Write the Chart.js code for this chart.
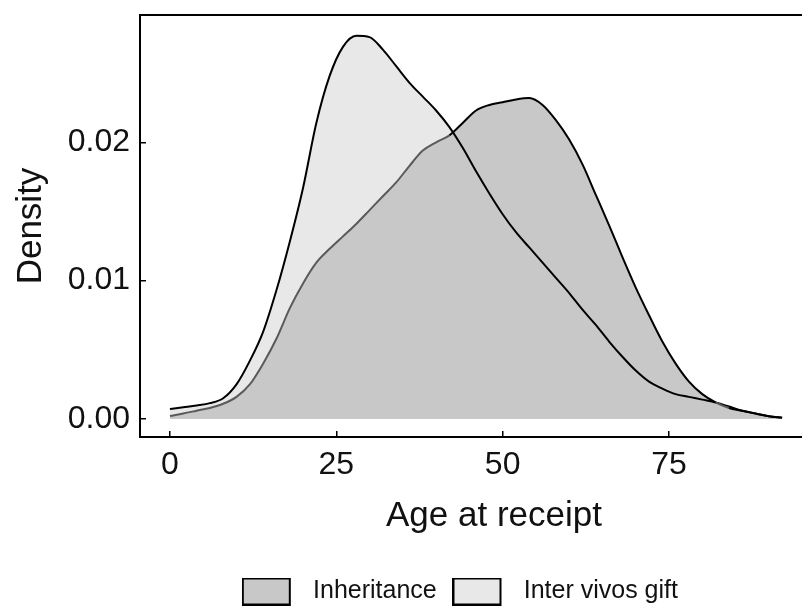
<!DOCTYPE html>
<html>
<head>
<meta charset="utf-8">
<script src="https://cdn.jsdelivr.net/npm/chart.js@4.4.1/dist/chart.umd.min.js"></script>
<style>
  html, body { margin: 0; padding: 0; background: #fff; overflow: hidden; }
  /* the original figure is wider than the window; the right part is cut off */
  #wrap { width: 925px; height: 607px; }
</style>
</head>
<body>
<div id="wrap"><canvas id="densityChart"></canvas></div>
<script>
// age grid (years) and density readings for each group
const ages = [0, 2, 4, 6, 8, 10, 12, 14, 16, 18, 20, 22, 24, 26, 28, 30, 32, 34, 36, 38, 40, 42, 44, 46,
  48, 50, 52, 54, 56, 58, 60, 62, 64, 66, 68, 70, 72, 74, 76, 78, 80, 82, 84, 86, 88, 90, 92];

const inheritance = [0.00022, 0.0004, 0.0006, 0.0008, 0.0011, 0.0016, 0.0025, 0.0040, 0.0058, 0.0080,
  0.0098, 0.0113, 0.0123, 0.0132, 0.0141, 0.0151, 0.0161, 0.0171, 0.0183, 0.0194, 0.0200, 0.0205,
  0.0214, 0.0223, 0.0227, 0.0229, 0.0231, 0.0232, 0.0227, 0.0216, 0.0202, 0.0184, 0.0162, 0.0140,
  0.0117, 0.0095, 0.0075, 0.0056, 0.0040, 0.0027, 0.0018, 0.0012, 0.0008, 0.0006, 0.0004, 0.0002, 0.0001];

const interVivos = [0.00072, 0.00085, 0.00098, 0.00115, 0.0015, 0.0025, 0.0042, 0.0063, 0.0093, 0.0128,
  0.0167, 0.0214, 0.0248, 0.0269, 0.0277, 0.0276, 0.0267, 0.0255, 0.0243, 0.0233, 0.0223, 0.0211,
  0.0196, 0.0179, 0.0163, 0.0148, 0.0135, 0.0124, 0.0113, 0.0102, 0.0091, 0.0079, 0.0068, 0.0056,
  0.0045, 0.0035, 0.0027, 0.0022, 0.0018, 0.0016, 0.0014, 0.0012, 0.0009, 0.0006, 0.0004, 0.0002, 0.0001];

const seriesNames = ['Inheritance', 'Inter vivos gift'];
const fills = ['#c8c8c8', '#e8e8e8'];
const xTicks = [0, 25, 50, 75];
const yTicks = [0, 0.01, 0.02];

const FONT = "Arial, 'Liberation Sans', sans-serif";
Chart.defaults.font.family = FONT;
Chart.defaults.color = '#111';

const toPoints = vals => ages.map((a, i) => ({ x: a, y: vals[i] }));

// inheritance outline shows grey where it sits under the gift curve
const underGift = ctx => {
  const i = ctx.p1DataIndex;
  return inheritance[i] < interVivos[i] ? '#5a5a5a' : '#000';
};

// legend key: outlined box with some blank room after it
function keySwatch(fill) {
  const c = document.createElement('canvas');
  c.width = 60; c.height = 28;
  const g = c.getContext('2d');
  g.fillStyle = fill;
  g.fillRect(1, 1, 47, 26);
  g.strokeStyle = '#000';
  g.lineWidth = 2;
  g.strokeRect(1, 1, 47, 26);
  return c;
}

// legend is centred on the whole figure, not on the padded box
const legendSpan = {
  id: 'legendSpan',
  afterLayout(chart) {
    const lg = chart.legend;
    lg.left = -2;
    lg.right = chart.width - 2;
  }
};

const common = { pointRadius: 0, cubicInterpolationMode: 'monotone' };

new Chart(document.getElementById('densityChart'), {
  type: 'line',
  data: {
    datasets: [{
      ...common,
      label: seriesNames[0],
      data: toPoints(inheritance),
      backgroundColor: fills[0],
      borderWidth: 0,
      fill: 'origin'
    }, {
      ...common,
      label: seriesNames[0] + ' outline',
      data: toPoints(inheritance),
      borderColor: '#000',
      borderWidth: 2,
      fill: false,
      segment: { borderColor: underGift }
    }, {
      ...common,
      label: seriesNames[1],
      data: toPoints(interVivos),
      borderColor: '#000',
      backgroundColor: fills[1],
      borderWidth: 2,
      fill: 'origin'
    }]
  },
  plugins: [legendSpan],
  options: {
    responsive: true,
    maintainAspectRatio: false,
    animation: false,
    layout: { padding: { top: 15, right: 77, left: 0, bottom: -7 } },
    plugins: {
      filler: { drawTime: 'beforeDatasetsDraw' },
      tooltip: { enabled: false },
      legend: {
        position: 'bottom',
        labels: {
          usePointStyle: true,
          pointStyleWidth: 57.5,
          padding: 17,
          color: '#111',
          font: { size: 25 },
          generateLabels: () => seriesNames.map((name, i) => ({
            text: name,
            pointStyle: keySwatch(fills[i]),
            fillStyle: fills[i],
            strokeStyle: '#000',
            lineWidth: 0,
            fontColor: '#111',
            hidden: false,
            datasetIndex: i === 0 ? 0 : 2
          }))
        }
      }
    },
    scales: {
      x: {
        type: 'linear',
        min: -4.5,
        max: 101.9,
        afterBuildTicks: s => { s.ticks = xTicks.map(v => ({ value: v })); },
        afterFit: s => { s.height = 125; s.paddingLeft = 0; s.paddingRight = 0; },
        ticks: { font: { size: 32 }, padding: 15, color: '#111' },
        grid: { drawOnChartArea: false, drawTicks: true, tickLength: -6, color: '#000', lineWidth: 1.5 },
        border: { color: '#000', width: 2 },
        title: { display: true, text: 'Age at receipt', font: { size: 35 }, padding: { top: 0, bottom: 25 }, color: '#111' }
      },
      xTop: {
        type: 'linear',
        position: 'top',
        min: -4.5,
        max: 101.9,
        afterFit: s => { s.height = 0; s.paddingLeft = 0; s.paddingRight = 0; },
        ticks: { display: false },
        grid: { drawOnChartArea: false, drawTicks: false },
        border: { color: '#000', width: 2 }
      },
      y: {
        min: -0.0013,
        max: 0.0292,
        afterBuildTicks: s => { s.ticks = yTicks.map(v => ({ value: v })); },
        afterFit: s => { s.width = 140; s.paddingTop = 0; s.paddingBottom = 0; },
        ticks: { font: { size: 32 }, padding: 16, color: '#111', callback: v => v.toFixed(2) },
        grid: { drawOnChartArea: false, drawTicks: true, tickLength: -6, color: '#000', lineWidth: 1.5 },
        border: { color: '#000', width: 2 },
        title: { display: true, text: 'Density', font: { size: 35 }, padding: { top: 10, bottom: 0 }, color: '#111' }
      }
    }
  }
});
</script>
</body>
</html>
